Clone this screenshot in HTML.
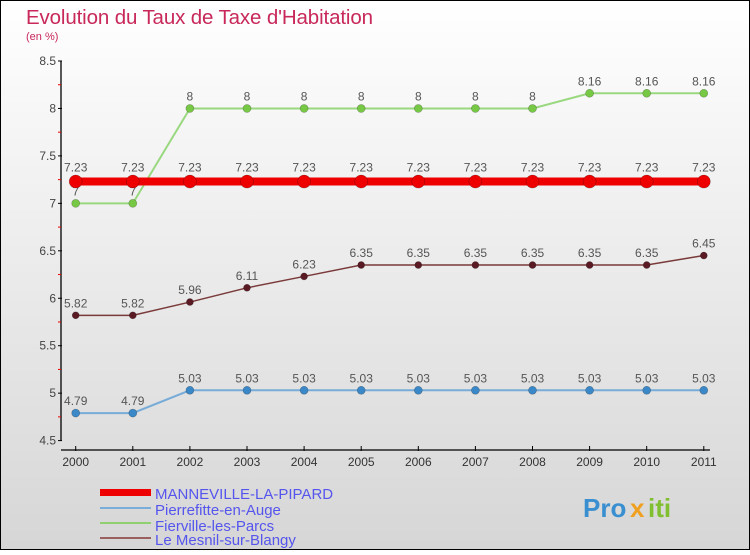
<!DOCTYPE html>
<html><head><meta charset="utf-8"><style>
html,body{margin:0;padding:0}
body{width:750px;height:550px;overflow:hidden;font-family:"Liberation Sans",sans-serif}
</style></head><body>
<svg width="750" height="550" xmlns="http://www.w3.org/2000/svg">
<defs><linearGradient id="bg" x1="0" y1="0" x2="0" y2="1"><stop offset="0" stop-color="#ffffff"/><stop offset="1" stop-color="#d6d6d6"/></linearGradient></defs>
<rect x="0.5" y="0.5" width="749" height="549" fill="url(#bg)" stroke="#000"/>
<text x="26" y="24" font-size="20.5" fill="#c8285a" textLength="347">Evolution du Taux de Taxe d'Habitation</text>
<text x="26" y="40" font-size="11" fill="#c8285a">(en %)</text>
<g id="axes"></g><g id="series"></g>
<g>
<rect x="100" y="489" width="51" height="7" fill="#e00"/>
<text x="155" y="499" font-size="15" fill="#5555ee">MANNEVILLE-LA-PIPARD</text>
<line x1="100" y1="508" x2="151" y2="508" stroke="#7aaed8" stroke-width="2"/>
<text x="155" y="515" font-size="15" fill="#5555ee">Pierrefitte-en-Auge</text>
<line x1="100" y1="523" x2="151" y2="523" stroke="#90d070" stroke-width="2"/>
<text x="155" y="531" font-size="15" fill="#5555ee">Fierville-les-Parcs</text>
<line x1="100" y1="538" x2="151" y2="538" stroke="#9a6060" stroke-width="2"/>
<text x="155" y="545" font-size="15" fill="#5555ee">Le Mesnil-sur-Blangy</text>
</g>
<g font-size="26" font-weight="bold">
<text x="583" y="517" fill="#3a8fd0">Pro</text><text x="630" y="517" fill="#f0a020">x</text><text x="648" y="517" fill="#80c030">iti</text>
</g>
</svg>
<script>
const years=['2000','2001','2002','2003','2004','2005','2006','2007','2008','2009','2010','2011'];
const yTicks=[4.5,5,5.5,6,6.5,7,7.5,8,8.5];
const manneville=[7.23,7.23,7.23,7.23,7.23,7.23,7.23,7.23,7.23,7.23,7.23,7.23];
const pierrefitte=[4.79,4.79,5.03,5.03,5.03,5.03,5.03,5.03,5.03,5.03,5.03,5.03];
const fierville=[7,7,8,8,8,8,8,8,8,8.16,8.16,8.16];
const mesnil=[5.82,5.82,5.96,6.11,6.23,6.35,6.35,6.35,6.35,6.35,6.35,6.45];
const NS='http://www.w3.org/2000/svg';
const X=i=>75.7+i*57.1;
const Y=v=>61+(8.5-v)*94.9;
function mk(t,a,p){const e=document.createElementNS(NS,t);for(const k in a)e.setAttribute(k,a[k]);p.appendChild(e);return e;}
const ax=document.getElementById('axes'), sg=document.getElementById('series');
mk('line',{x1:61,y1:Y(8.5),x2:61,y2:Y(4.5),stroke:'#000','stroke-width':1.3},ax);
mk('line',{x1:61,y1:450,x2:710,y2:450,stroke:'#000','stroke-width':1.3},ax);
yTicks.forEach((v,i)=>{
 mk('line',{x1:58,y1:Y(v),x2:62,y2:Y(v),stroke:'#000'},ax);
 const t=mk('text',{x:56,y:Y(v)+4,'font-size':12,fill:'#444','text-anchor':'end'},ax);t.textContent=String(v);
 
 
 if(i<yTicks.length-1) mk('line',{x1:58,y1:Y(v+0.25),x2:61,y2:Y(v+0.25),stroke:'#e00'},ax);
});
years.forEach((y,i)=>{
 mk('line',{x1:X(i),y1:446,x2:X(i),y2:451,stroke:'#000'},ax);
 const t=mk('text',{x:X(i),y:466,'font-size':12,fill:'#333','text-anchor':'middle'},ax);t.textContent=y;
 
 
});
function series(name,data,col,dot,lw,r,dy){
 const g=mk('g',{},sg);
 
 
 mk('polyline',{points:data.map((v,i)=>X(i)+','+Y(v)).join(' '),fill:'none',stroke:col,'stroke-width':lw},g);
 data.forEach((v,i)=>{
  const c=mk('circle',{cx:X(i),cy:Y(v),r:r,fill:dot,stroke:'rgba(0,0,0,0.3)','stroke-width':0.6},g);
  
  
  const t=mk('text',{x:X(i),y:Y(v)-dy,'font-size':12,fill:'#555','text-anchor':'middle'},g);
  t.textContent=String(v);
  
  
 });
}
series('series-fierville',fierville,'#9ad880','#77c844',2,4,8);
series('series-mesnil',mesnil,'#7a3a3a','#5a1a24',1.5,3.5,8);
series('series-pierrefitte',pierrefitte,'#78acd8','#3a88c8',2,4,8);
series('series-manneville',manneville,'#e00','#e00',8,6.5,10);
</script>
</body></html>
